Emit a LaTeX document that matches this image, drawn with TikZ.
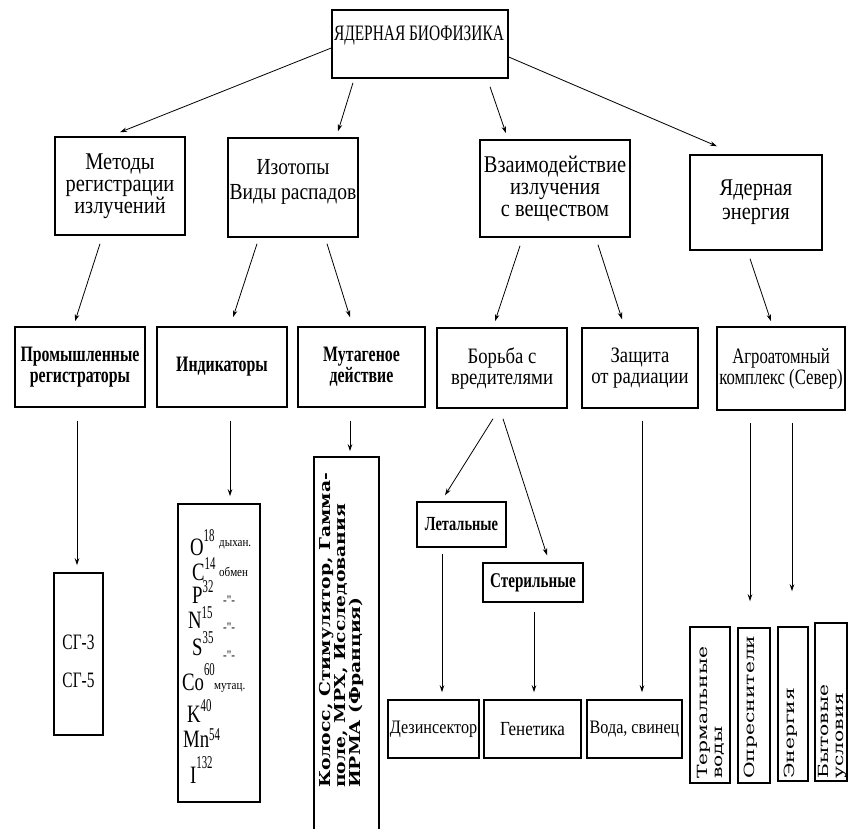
\documentclass[tikz,border=0pt]{standalone}
\usepackage{fontspec}
\setmainfont{Liberation Serif}
\newfontfamily\fA[FakeStretch=0.85]{Liberation Serif}
\newfontfamily\fAb[FakeStretch=0.72]{Liberation Serif}
\newfontfamily\fAg[FakeStretch=0.76]{Liberation Serif}
\newfontfamily\fB[FakeStretch=0.7]{Liberation Serif}
\newfontfamily\fC[FakeStretch=0.6]{Liberation Serif}
\newfontfamily\fD[FakeStretch=0.75]{Liberation Serif}
\newfontfamily\fW[FakeStretch=1.45]{DejaVu Serif}
\newfontfamily\fM[FakeStretch=1.25]{DejaVu Serif}
\usetikzlibrary{arrows.meta}
\begin{document}
\begin{tikzpicture}[x=1pt,y=-1pt,
  box/.style={draw, line width=1.5pt, inner sep=0pt, align=center},
  conn/.style={line width=0.8pt, -{Stealth[length=7pt,width=4.5pt]}},
  lvlone/.style={font=\fA\fontsize{24}{22}\selectfont},
  lvltwo/.style={font=\fA\fontsize{22}{21}\selectfont},
  lvltwob/.style={font=\fAb\bfseries\fontsize{22}{21}\selectfont},
  elem/.style={inner sep=0pt, anchor=base west, font=\fD\fontsize{25}{25}\selectfont},
  elemlab/.style={inner sep=0pt, anchor=west, font=\fA\fontsize{13}{13}\selectfont},
  rottext/.style={inner sep=0pt, anchor=north west, rotate=90, align=left, font=\fW\fontsize{14}{15}\selectfont}]
\useasboundingbox (0,0) rectangle (848,828);
\fill[white] (0,0) rectangle (848,828);

% top
\node[box, minimum width=176pt, minimum height=68pt] (top) at (420,44) {};
\node[inner sep=0pt, anchor=base, font=\fB\fontsize{22}{22}\selectfont] (toptxt) at (419,40) {ЯДЕРНАЯ БИОФИЗИКА};

% level 1
\node[box, lvlone, minimum width=130pt, minimum height=98pt] (met) at (120,186) {Методы\\регистрации\\излучений};
\node[box, minimum width=130pt, minimum height=99pt] (izo) at (293,187.5) {};
\node[inner sep=0pt, align=center, font=\fA\fontsize{23}{25}\selectfont] (izot) at (293,182) {Изотопы\\Виды распадов};
\node[box, lvlone, minimum width=150pt, minimum height=97pt] (vza) at (555,188.5) {Взаимодействие\\излучения\\с веществом};
\node[box, font=\fA\fontsize{24}{24}\selectfont, minimum width=132pt, minimum height=95pt] (yae) at (756,202.5) {Ядерная\\энергия};

% level 2
\node[box, lvltwob, minimum width=130pt, minimum height=80pt] (prom) at (80,367) {Промышленные\\регистраторы};
\node[box, lvltwob, minimum width=130pt, minimum height=80pt] (ind) at (222,367) {Индикаторы};
\node[box, lvltwob, minimum width=127pt, minimum height=80pt] (mut) at (361.5,367) {Мутагеное\\действие};
\node[box, lvltwo, minimum width=130pt, minimum height=80pt] (bor) at (502,368) {Борьба с\\вредителями};
\node[box, lvltwo, minimum width=116pt, minimum height=80pt] (zas) at (640,368) {Защита\\от радиации};
\node[box, font=\fAg\fontsize{22}{21}\selectfont, minimum width=128pt, minimum height=83pt] (agr) at (781,368.5) {Агроатомный\\комплекс (Север)};

% level 3
\node[box, minimum width=49pt, minimum height=162pt] (sg) at (78.5,654) {};
\node[inner sep=0pt, align=center, font=\fB\fontsize{22}{38}\selectfont] (sgt) at (78.5,661) {СГ-3\\СГ-5};

\node[box, minimum width=82pt, minimum height=298pt] (indl) at (219,653) {};
\node[elem] (eO) at (190,555) {O\raisebox{14pt}{\fC\fontsize{18}{18}\selectfont 18}};
\node[elem] (eC) at (192,580) {C\raisebox{11pt}{\fC\fontsize{18}{18}\selectfont 14}};
\node[elem] (eP) at (192,603) {P\raisebox{11pt}{\fC\fontsize{18}{18}\selectfont 32}};
\node[elem] (eN) at (188,628) {N\raisebox{10pt}{\fC\fontsize{18}{18}\selectfont 15}};
\node[elem] (eS) at (192,655) {S\raisebox{12pt}{\fC\fontsize{18}{18}\selectfont 35}};
\node[elem] (eCo) at (182,690) {Co\raisebox{15pt}{\fC\fontsize{18}{18}\selectfont 60}};
\node[elem] (eK) at (187,722) {K\raisebox{11pt}{\fC\fontsize{18}{18}\selectfont 40}};
\node[elem] (eMn) at (183,747) {Mn\raisebox{7pt}{\fC\fontsize{18}{18}\selectfont 54}};
\node[elem] (eI) at (190,783) {I\raisebox{15pt}{\fC\fontsize{18}{18}\selectfont 132}};
\node[elemlab] (lO) at (219,545) {дыхан.};
\node[elemlab] (lC) at (219,572) {обмен};
\node[elemlab] (lP) at (223,600) {-{}"{}-};
\node[elemlab] (lN) at (223,627) {-{}"{}-};
\node[elemlab] (lS) at (223,655) {-{}"{}-};
\node[elemlab] (lCo) at (214,688) {мутац.};

\node[box, minimum width=65pt, minimum height=372.5pt] (mutl) at (346.5,643.25) {};
\node[inner sep=0pt, anchor=north west, rotate=90, align=left, font=\fM\bfseries\fontsize{15}{13}\selectfont] (mutlt) at (319,788) {Колосс, Стимулятор, Гамма-\\поле, МРХ, Исследования\\ИРМА (Франция)};

\node[box, font=\fAb\bfseries\fontsize{20}{20}\selectfont, minimum width=89pt, minimum height=45pt] (let) at (461.5,524.5) {Летальные};
\node[box, font=\fAb\bfseries\fontsize{21}{21}\selectfont, minimum width=100pt, minimum height=39pt] (ster) at (533,582.5) {Стерильные};

\node[box, font=\fA\fontsize{19}{19}\selectfont, minimum width=91pt, minimum height=58pt] (dez) at (433.5,729) {Дезинсектор};
\node[box, font=\fA\fontsize{20}{20}\selectfont, minimum width=97pt, minimum height=58pt] (gen) at (532.5,729) {Генетика};
\node[box, font=\fA\fontsize{19}{19}\selectfont, minimum width=95pt, minimum height=58pt] (voda) at (634.5,729) {Вода, свинец};

\node[box, minimum width=40pt, minimum height=156pt] (term) at (710,705) {};
\node[box, minimum width=32pt, minimum height=155pt] (opr) at (754,705.5) {};
\node[box, minimum width=30pt, minimum height=154pt] (ener) at (793,704) {};
\node[box, minimum width=32pt, minimum height=158pt] (byt) at (831,702) {};
\node[rottext] (termt) at (697,779) {Термальные\\воды};
\node[rottext] (oprt) at (744,779) {Опреснители};
\node[rottext] (enert) at (784,779) {Энергия};
\node[rottext] (bytt) at (818,779) {Бытовые\\условия};

% connectors
\draw[conn] ([yshift=-4pt]top.west) -- ([yshift=4pt]met.north);
\draw[conn] ([xshift=-67pt,yshift=-4pt]top.south) -- ([xshift=45pt,yshift=6pt]izo.north);
\draw[conn] ([xshift=70pt,yshift=-8pt]top.south) -- ([xshift=-49pt,yshift=6pt]vza.north);
\draw[conn] ([yshift=-13pt]top.east) -- ([xshift=-39pt,yshift=8pt]yae.north);

\draw[conn] ([xshift=-20pt,yshift=-8pt]met.south) -- ([xshift=-5pt,yshift=5pt]prom.north);
\draw[conn] ([xshift=-36pt,yshift=-6pt]izo.south) -- ([xshift=11pt,yshift=9pt]ind.north);
\draw[conn] ([xshift=34pt,yshift=-6pt]izo.south) -- ([xshift=-11.5pt,yshift=9pt]mut.north);
\draw[conn] ([xshift=-35pt,yshift=-8pt]vza.south) -- ([xshift=-7pt,yshift=6pt]bor.north);
\draw[conn] ([xshift=43pt,yshift=-7pt]vza.south) -- ([xshift=-18pt,yshift=8pt]zas.north);
\draw[conn] ([xshift=-6pt,yshift=-8pt]yae.south) -- ([xshift=-10pt,yshift=5pt]agr.north);

\draw[conn] ([xshift=-3pt,yshift=-13pt]prom.south) -- ([xshift=-1.5pt,yshift=7pt]sg.north);
\draw[conn] ([xshift=8pt,yshift=-13pt]ind.south) -- ([xshift=11pt,yshift=7pt]indl.north);
\draw[conn] ([xshift=-11.5pt,yshift=-13pt]mut.south) -- ([xshift=3.5pt,yshift=5pt]mutl.north);
\draw[conn] ([xshift=-9pt,yshift=-10pt]bor.south) -- ([xshift=-16.5pt,yshift=6pt]let.north);
\draw[conn] ([xshift=1pt,yshift=-10pt]bor.south) -- ([xshift=14pt,yshift=7pt]ster.north);
\draw[conn] ([xshift=-19.5pt,yshift=-6pt]let.south) -- ([xshift=8.5pt,yshift=7pt]dez.north);
\draw[conn] ([xshift=1pt,yshift=-9pt]ster.south) -- ([xshift=1.5pt,yshift=7pt]gen.north);
\draw[conn] ([xshift=2pt,yshift=-12pt]zas.south) -- ([xshift=7.5pt,yshift=7pt]voda.north);
\draw[conn] ([xshift=-31pt,yshift=-12pt]agr.south) -- ([xshift=-4pt,yshift=26pt]opr.north);
\draw[conn] ([xshift=11pt,yshift=-12pt]agr.south) -- ([xshift=-1pt,yshift=35pt]ener.north);
\end{tikzpicture}
\end{document}
